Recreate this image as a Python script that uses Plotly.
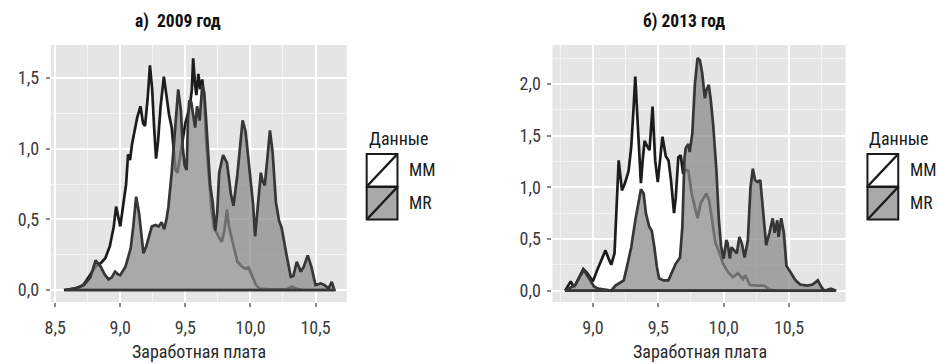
import plotly.graph_objects as go

W, H = 938, 364
FONT = "Roboto Condensed, Liberation Sans Narrow, Liberation Sans, sans-serif"

# ---- 2009: density of log wages, MM and MR samples ----
mm09_x = [8.567, 8.62, 8.68, 8.72, 8.75, 8.78, 8.81, 8.85, 8.885, 8.92, 8.95, 8.968,
          8.985, 9.0, 9.015, 9.03, 9.045, 9.06, 9.075, 9.09, 9.11, 9.13, 9.155, 9.175,
          9.19, 9.21, 9.228, 9.245, 9.26, 9.275, 9.29, 9.31, 9.335, 9.355, 9.375, 9.395,
          9.41, 9.425, 9.44, 9.46, 9.48, 9.50, 9.52, 9.535, 9.55, 9.56, 9.575, 9.585,
          9.60, 9.615, 9.63, 9.645, 9.66, 9.68, 9.70, 9.72, 9.735, 9.76, 9.78, 9.80,
          9.82, 9.835, 9.855, 9.88, 9.90, 9.93, 9.96, 9.985, 10.01, 10.04, 10.07, 10.15,
          10.28, 10.32, 10.35, 10.40, 10.50, 10.645]
mm09_y = [0.0, 0.005, 0.015, 0.04, 0.08, 0.12, 0.165, 0.19, 0.225, 0.31, 0.45, 0.59,
          0.50, 0.45, 0.55, 0.65, 0.75, 0.96, 0.92, 1.03, 1.13, 1.22, 1.30, 1.18,
          1.16, 1.35, 1.59, 1.42, 1.15, 0.93, 1.05, 1.30, 1.51, 1.38, 1.24, 1.15,
          1.0, 0.85, 0.83, 0.95, 1.08, 1.18, 1.25, 1.30, 1.42, 1.64, 1.45, 1.38,
          1.53, 1.42, 1.49, 1.35, 1.05, 0.80, 0.58, 0.44, 0.41, 0.37, 0.34, 0.42,
          0.57, 0.45, 0.37, 0.28, 0.20, 0.17, 0.15, 0.16, 0.10, 0.04, 0.01, 0.005,
          0.005, 0.025, 0.01, 0.0, 0.0, 0.0]

mr09_x = [8.58, 8.65, 8.72, 8.77, 8.81, 8.85, 8.88, 8.91, 8.935, 8.96, 8.985, 9.0,
          9.04, 9.08, 9.10, 9.122, 9.145, 9.165, 9.178, 9.20, 9.22, 9.242, 9.27, 9.295,
          9.318, 9.338, 9.355, 9.37, 9.395, 9.42, 9.445, 9.466, 9.48, 9.495, 9.51, 9.52,
          9.53, 9.545, 9.56, 9.575, 9.59, 9.61, 9.63, 9.645, 9.66, 9.675, 9.69, 9.71,
          9.73, 9.745, 9.76, 9.79, 9.82, 9.85, 9.87, 9.90, 9.94, 9.963, 9.99, 10.02,
          10.036, 10.06, 10.08, 10.094, 10.11, 10.13, 10.15, 10.17, 10.196, 10.22, 10.24, 10.275,
          10.31, 10.33, 10.356, 10.387, 10.41, 10.44, 10.468, 10.50, 10.54, 10.57, 10.60, 10.625,
          10.645]
mr09_y = [0.0, 0.01, 0.035, 0.09, 0.21, 0.165, 0.11, 0.075, 0.09, 0.13, 0.11, 0.105,
          0.165, 0.295, 0.45, 0.66, 0.54, 0.35, 0.26, 0.31, 0.38, 0.45, 0.46, 0.45,
          0.48, 0.43, 0.50, 0.59, 0.83, 1.16, 1.42, 1.27, 1.01, 0.88, 0.85, 1.20,
          1.34, 1.33, 1.22, 1.15, 1.30, 1.20, 1.45, 1.40, 1.20, 0.95, 0.75, 0.62,
          0.42, 0.55, 0.83, 0.955, 0.90, 0.68, 0.595, 0.82, 1.20, 1.12, 0.87, 0.61,
          0.38, 0.64, 0.83, 0.77, 0.74, 0.93, 1.13, 0.98, 0.62, 0.49, 0.44, 0.26,
          0.094, 0.10, 0.20, 0.13, 0.165, 0.245, 0.165, 0.035, 0.047, 0.035, 0.01, 0.057,
          0.0]

# ---- 2013 ----
mm13_x = [8.787, 8.83, 8.856, 8.894, 8.926, 8.95, 8.975, 9.0, 9.033, 9.058, 9.096, 9.12,
          9.14, 9.165, 9.18, 9.197, 9.222, 9.248, 9.273, 9.293, 9.31, 9.324, 9.344, 9.367,
          9.38, 9.395, 9.413, 9.433, 9.456, 9.476, 9.496, 9.514, 9.532, 9.557, 9.578, 9.597,
          9.62, 9.633, 9.653, 9.671, 9.69, 9.71, 9.73, 9.755, 9.78, 9.80, 9.825, 9.868,
          9.889, 9.912, 9.937, 9.97, 9.995, 10.033, 10.07, 10.11, 10.147, 10.165, 10.20, 10.26,
          10.31, 10.35, 10.40]
mm13_y = [0.0, 0.09, 0.03, 0.12, 0.21, 0.18, 0.13, 0.09, 0.20, 0.28, 0.39, 0.31,
          0.25, 0.36, 0.75, 1.26, 0.97, 1.05, 1.16, 1.39, 1.75, 2.07, 1.58, 1.04,
          1.25, 1.45, 1.40, 1.36, 1.78, 1.26, 1.05, 1.30, 1.49, 1.30, 1.26, 1.07,
          0.75, 0.89, 1.29, 1.31, 1.13, 1.17, 1.16, 0.94, 0.81, 0.70, 0.85, 0.94,
          0.87, 0.68, 0.46, 0.36, 0.26, 0.18, 0.13, 0.17, 0.11, 0.15, 0.055, 0.05,
          0.05, 0.01, 0.0]

mr13_x = [8.79, 8.868, 8.906, 8.93, 8.97, 9.008, 9.04, 9.10, 9.14, 9.172, 9.197, 9.236,
          9.26, 9.293, 9.324, 9.35, 9.367, 9.388, 9.405, 9.43, 9.45, 9.47, 9.489, 9.506,
          9.54, 9.577, 9.60, 9.633, 9.666, 9.684, 9.70, 9.71, 9.73, 9.74, 9.76, 9.78,
          9.80, 9.818, 9.836, 9.856, 9.868, 9.886, 9.90, 9.92, 9.945, 9.963, 9.98, 10.0,
          10.02, 10.03, 10.047, 10.06, 10.08, 10.10, 10.12, 10.14, 10.16, 10.185, 10.205, 10.223,
          10.24, 10.26, 10.28, 10.30, 10.325, 10.35, 10.375, 10.39, 10.41, 10.42, 10.44, 10.46,
          10.48, 10.51, 10.55, 10.585, 10.64, 10.68, 10.72, 10.745, 10.77, 10.82, 10.86]
mr13_y = [0.0, 0.06, 0.15, 0.20, 0.12, 0.04, 0.02, 0.01, 0.0, 0.05, 0.07, 0.10,
          0.23, 0.42, 0.68, 0.88, 0.98, 0.94, 0.75, 0.62, 0.58, 0.42, 0.23, 0.12,
          0.10, 0.10, 0.17, 0.26, 0.32, 0.62, 1.28, 1.38, 1.42, 1.34, 1.52, 2.0,
          2.25, 2.23, 2.10, 1.86, 1.94, 1.99, 1.86, 1.60, 1.15, 0.69, 0.43, 0.31,
          0.49, 0.46, 0.31, 0.42, 0.39, 0.36, 0.52, 0.45, 0.32, 0.49, 1.0, 1.18,
          1.07, 1.05, 1.07, 0.81, 0.44, 0.56, 0.70, 0.56, 0.68, 0.52, 0.70, 0.56,
          0.24, 0.18, 0.10, 0.06, 0.05, 0.06, 0.10, 0.04, 0.0, 0.02, 0.0]

series_names = ["MM", "MR"]
panel_titles = ["а)\u00a0 2009 год", "б) 2013 год"]
x_title = "Заработная плата"
legend_title = "Данные"

MM_FILL = "white"
MM_LINE = "#1c1c1c"
MR_FILL = "rgba(139,139,139,0.74)"
MR_LINE = "#363636"


def closed(xs, ys):
    # close the density polygon along the baseline
    return list(xs) + [xs[0]], list(ys) + [0.0]


def px(x):
    return x / W


def py(y):
    return 1 - y / H


fig = go.Figure()

panels = [
    ("x", "y", (mm09_x, mm09_y), (mr09_x, mr09_y)),
    ("x2", "y2", (mm13_x, mm13_y), (mr13_x, mr13_y)),
]
for xa, ya, mm, mr in panels:
    for (xs, ys), fc, lc in ((mm, MM_FILL, MM_LINE), (mr, MR_FILL, MR_LINE)):
        cx, cy = closed(xs, ys)
        fig.add_trace(go.Scatter(
            x=cx, y=cy, mode="lines", fill="toself", fillcolor=fc,
            line=dict(color=lc, width=2.7), xaxis=xa, yaxis=ya,
            hoverinfo="skip", showlegend=False))

tickfont = dict(family=FONT, size=18, color="#3a3a3a")


def xaxis(domain, rng, anchor):
    return dict(domain=domain, range=rng, anchor=anchor,
                tickmode="linear", tick0=8.5, dtick=0.5, tickformat=".1f",
                showgrid=True, gridcolor="white", gridwidth=1.6,
                minor=dict(tick0=8.25, dtick=0.25, showgrid=True,
                           gridcolor="#F3F3F3", gridwidth=0.8),
                ticks="outside", ticklen=4, tickwidth=1.8, tickcolor="#8a8a8a",
                ticklabelstandoff=5,
                zeroline=False, showline=False, tickfont=tickfont, fixedrange=True)


def yaxis(domain, rng, anchor):
    return dict(domain=domain, range=rng, anchor=anchor,
                tickmode="linear", tick0=0, dtick=0.5, tickformat=".1f",
                showgrid=True, gridcolor="white", gridwidth=1.6,
                minor=dict(tick0=0.25, dtick=0.25, showgrid=True,
                           gridcolor="#F3F3F3", gridwidth=0.8),
                ticks="outside", ticklen=4, tickwidth=1.8, tickcolor="#8a8a8a",
                ticklabelstandoff=3,
                zeroline=False, showline=False, tickfont=tickfont, fixedrange=True)


ydom = [py(302), py(45)]
fig.update_layout(
    width=W, height=H, margin=dict(l=0, r=0, t=0, b=0),
    paper_bgcolor="white", plot_bgcolor="#E5E5E5",
    separators=", ", showlegend=False,
    xaxis=xaxis([px(45), px(343)], [8.4656, 10.7405], "y"),
    yaxis=yaxis(ydom, [-0.0849, 1.7339], "x"),
    xaxis2=xaxis([px(550), px(845)], [8.6907, 10.9324], "y2"),
    yaxis2=yaxis(ydom, [-0.1093, 2.376], "x2"),
)

annotations = []
shapes = []
txt = dict(family=FONT, size=18, color="#1a1a1a")

# panel titles and axis titles
for title, cx in zip(panel_titles, (173.5, 682)):
    annotations.append(dict(text="<b>" + title + "</b>", x=px(cx), y=py(21),
                            xref="paper", yref="paper", showarrow=False,
                            xanchor="center", yanchor="middle",
                            font=dict(family=FONT, size=17.5, color="#111111")))
for cx in (194, 698):
    annotations.append(dict(text=x_title, x=px(cx), y=py(351.5), xref="paper", yref="paper",
                            showarrow=False, xanchor="center", yanchor="middle", borderpad=0,
                            font=dict(family=FONT, size=18, color="#2a2a2a")))

# legends: title, two keys with a diagonal stroke, labels
key_fills = [MM_FILL, "#A9A9A9"]
for lx in (363, 867):
    annotations.append(dict(text=legend_title, x=px(lx), y=py(138), xref="paper", yref="paper",
                            showarrow=False, xanchor="left", yanchor="middle", font=txt))
    tops = [154, 187]
    for name, fc, top in zip(series_names, key_fills, tops):
        bot = top + 32.5
        shapes.append(dict(type="rect", xref="paper", yref="paper",
                           x0=px(lx), x1=px(lx + 31), y0=py(bot), y1=py(top),
                           fillcolor=fc, line=dict(color="#1a1a1a", width=2)))
        shapes.append(dict(type="line", xref="paper", yref="paper",
                           x0=px(lx + 1), y0=py(bot - 1), x1=px(lx + 30), y1=py(top + 1),
                           line=dict(color="#1a1a1a", width=2.4)))
        annotations.append(dict(text=name, x=px(lx + 42), y=py((top + bot) / 2),
                                xref="paper", yref="paper", showarrow=False,
                                xanchor="left", yanchor="middle", borderpad=0,
                                font=dict(family=FONT, size=17.5, color="#1a1a1a")))

fig.update_layout(annotations=annotations, shapes=shapes)
fig.write_html("out.html")
